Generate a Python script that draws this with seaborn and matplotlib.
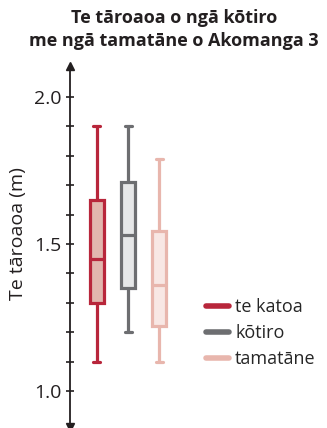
import pandas as pd
import seaborn as sns
import matplotlib.pyplot as plt
from matplotlib.lines import Line2D

# five-number summaries (min, Q1, median, Q3, max)
groups = ["te katoa", "kōtiro", "tamatāne"]
te_katoa = [1.10, 1.30, 1.45, 1.65, 1.90]
kotiro = [1.20, 1.35, 1.53, 1.71, 1.90]
tamatane = [1.10, 1.22, 1.36, 1.545, 1.79]

edge_colors = ["#b8263b", "#6d6e71", "#e8b6ad"]
fill_colors = ["#e2b6ae", "#e6e7e8", "#f8e7e4"]

title = "Te tāroaoa o ngā kōtiro\nme ngā tamatāne o Akomanga 3"
y_label = "Te tāroaoa (m)"
major_ticks = [1.0, 1.5, 2.0]
minor_ticks = [1.1, 1.2, 1.3, 1.4, 1.6, 1.7, 1.8, 1.9]


def build_frame():
    rows = []
    for name, vals in zip(groups, [te_katoa, kotiro, tamatane]):
        for v in vals:
            rows.append({"group": name, "height": v})
    return pd.DataFrame(rows)


def main():
    sns.set_style("white")
    plt.rcParams["font.family"] = ["Open Sans", "DejaVu Sans"]
    ink = "#231f20"

    df = build_frame()
    fig = plt.figure(figsize=(3.27, 4.28), dpi=100)
    ax = fig.add_axes([70 / 327, 1 / 428, 255 / 327, 361 / 428])

    for name, edge, fill in zip(groups, edge_colors, fill_colors):
        sns.boxplot(data=df[df["group"] == name], x="group", y="height",
                    order=groups, whis=(0, 100), width=0.45,
                    color=fill, linecolor=edge, linewidth=2.3,
                    saturation=1, ax=ax)

    ax.set_xlim(-0.87, 7.35)
    ax.set_ylim(0.878, 2.105)
    ax.set_xlabel("")
    ax.set_xticks([])
    ax.set_yticks(major_ticks)
    ax.set_yticks(minor_ticks, minor=True)
    ax.set_yticklabels([f"{t:.1f}" for t in major_ticks], fontsize=14, color=ink)
    ax.tick_params(axis="y", which="both", direction="inout", length=6,
                   width=1.2, color=ink, left=True, pad=3)
    ax.set_ylabel(y_label, fontsize=14, color=ink)
    ax.yaxis.set_label_coords(-0.168, 0.535)

    for side in ["top", "right", "bottom"]:
        ax.spines[side].set_visible(False)
    ax.spines["left"].set_color(ink)
    ax.spines["left"].set_linewidth(1.3)

    # arrow heads on both ends of the axis
    ax.plot([0], [1.0], marker="^", markersize=6, color=ink, transform=ax.transAxes, clip_on=False)
    ax.plot([0], [0.0], marker="v", markersize=6, color=ink, transform=ax.transAxes, clip_on=False)

    handles = [Line2D([0], [0], color=c, lw=4) for c in edge_colors]
    fig.legend(handles, groups, loc="upper left", bbox_to_anchor=(199 / 327, 1 - 291 / 428),
               frameon=False, fontsize=13, handlelength=1.25, handletextpad=0.35,
               labelspacing=0.45, borderaxespad=0)

    fig.suptitle(title, fontsize=13, fontweight="bold", color=ink, y=0.978, x=0.532,
                 linespacing=1.3)

    fig.savefig("out.png", dpi=100)
    plt.close(fig)


if __name__ == "__main__":
    main()
